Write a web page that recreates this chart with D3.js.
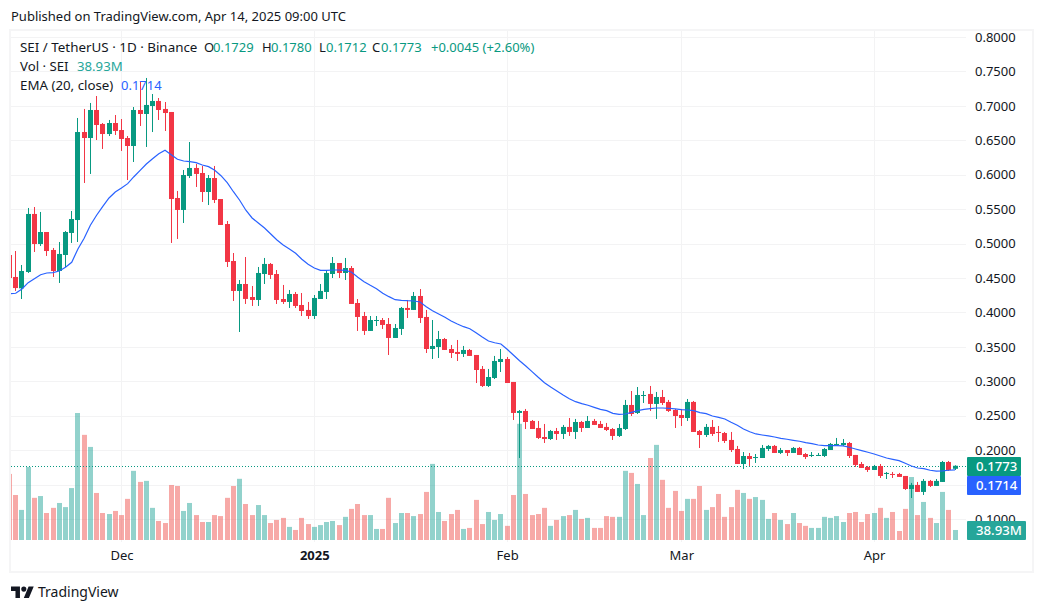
<!DOCTYPE html>
<html>
<head>
<meta charset="utf-8">
<script src="https://cdn.jsdelivr.net/npm/d3@7"></script>
<style>
  html, body { margin: 0; background: #fff; }
  text { font-family: "Noto Sans", sans-serif; }
</style>
</head>
<body>
<div id="chart"></div>
<script>
// SEI / USDT daily candles, Nov 13 2024 to Apr 14 2025, one row per month
const opens = [
  .4834,.4515,.4350,.4587,.5430,.4994,.5168,.4907,.4602,.4834,.5154,.5342,.6620,.6533,.6940,.6737,.6591,.6751,
  .6649,.6533,.6417,.6940,.6882,.6998,.7071,.6955,.6911,.5662,.5488,.5981,.6098,.6025,.5749,.5952,.5647,.5284,.4747,.4312,.4413,.4224,.4181,.4558,.4704,.4558,.4195,.4152,.4268,.4108,.4036,
  .3948,.4195,.4297,.4558,.4718,.4573,.4645,.4137,.3948,.3731,.3876,.3890,.3832,.3629,.3760,.4065,.4036,.4239,.3934,.3469,.3498,.3614,.3469,.3426,.3397,.3455,.3382,.3179,.2932,.3048,.3280,
  .3324,.2990,.2540,.2569,.2424,.2322,.2191,.2162,.2278,.2235,.2337,.2264,.2409,.2322,.2424,.2380,.2337,.2307,.2206,.2307,.2656,.2540,.2787,.2816,.2671,.2772,.2700,.2583,
  .2511,.2467,.2700,.2278,.2220,.2337,.2264,.2249,.2148,.2017,.1799,.1915,.1886,.1886,.2017,.2061,.1959,.2002,.1959,.2032,.1944,.1915,.1915,.1915,.2002,.2075,.2075,.2104,.1930,.1799,.1756,
  .1712,.1770,.1654,.1654,.1654,.1625,.1436,.1495,.1393,.1553,.1480,.1538,.1828,.1729
]
const highs = [
  .4907,.4892,.4689,.5517,.5531,.5459,.5168,.4936,.5023,.5183,.5473,.6824,.6955,.7042,.7143,.6751,.6795,.6867,
  .6809,.6562,.6983,.7347,.7405,.7172,.7114,.7056,.6911,.5764,.6069,.6475,.6156,.6127,.5996,.6127,.5647,.5328,.4863,.4471,.4805,.4384,.4660,.4791,.4718,.4616,.4399,.4326,.4297,.4282,.4152,
  .4253,.4413,.4616,.4805,.4718,.4791,.4674,.4195,.4007,.3948,.3948,.3919,.3919,.3832,.4079,.4181,.4297,.4340,.4036,.3890,.3731,.3629,.3527,.3600,.3513,.3469,.3382,.3222,.3179,.3368,.3469,
  .3353,.2990,.2583,.2598,.2438,.2424,.2380,.2293,.2322,.2366,.2467,.2453,.2424,.2496,.2453,.2424,.2395,.2322,.2380,.2729,.2859,.2917,.2859,.2932,.2845,.2874,.2729,.2598,
  .2598,.2743,.2714,.2293,.2380,.2438,.2351,.2264,.2264,.2061,.1973,.1959,.1944,.2075,.2075,.2075,.2032,.2002,.2046,.2046,.1959,.1973,.1959,.2032,.2104,.2177,.2162,.2119,.1930,.1828,.1770,
  .1785,.1799,.1683,.1683,.1669,.1625,.1524,.1538,.1581,.1567,.1581,.1843,.1843,.1780
]
const lows = [
  .4420,.4312,.4195,.4573,.4878,.4965,.4820,.4515,.4428,.4660,.5009,.5023,.5880,.6011,.6504,.6374,.6562,.6577,
  .6345,.5923,.6185,.6708,.6403,.6620,.6795,.6635,.5009,.5067,.5299,.5952,.5822,.5604,.5560,.5589,.5270,.4660,.4166,.3716,.4123,.4094,.4094,.4413,.4486,.4123,.4123,.4065,.4065,.3948,.3905,
  .3905,.4195,.4195,.4500,.4500,.4471,.4123,.3731,.3673,.3731,.3803,.3760,.3382,.3629,.3673,.3919,.4036,.3847,.3411,.3324,.3338,.3455,.3338,.3295,.3353,.3368,.2975,.2917,.2917,.3033,.3135,
  .2975,.2438,.1886,.2307,.2307,.2162,.2104,.2148,.2148,.2162,.2206,.2162,.2264,.2322,.2366,.2322,.2278,.2148,.2191,.2293,.2496,.2525,.2685,.2569,.2453,.2656,.2554,.2322,
  .2351,.2424,.2264,.2031,.2191,.2206,.2119,.2104,.1973,.1799,.1727,.1770,.1814,.1886,.1988,.1959,.1944,.1915,.1959,.1930,.1871,.1900,.1915,.1900,.2002,.2061,.2061,.1886,.1756,.1741,.1683,
  .1712,.1596,.1581,.1596,.1611,.1422,.1305,.1393,.1349,.1465,.1480,.1538,.1698,.1712
]
const closes = [
  .4500,.4354,.4602,.5430,.4994,.5168,.4892,.4602,.4849,.5168,.5357,.6620,.6533,.6940,.6722,.6591,.6751,.6635,
  .6519,.6417,.6940,.6882,.7013,.7071,.6940,.6896,.5647,.5488,.5996,.6098,.6011,.5749,.5952,.5633,.5270,.4733,.4312,.4413,.4196,.4181,.4573,.4704,.4544,.4181,.4152,.4268,.4094,.4021,.3948,
  .4210,.4312,.4573,.4718,.4573,.4645,.4123,.3934,.3731,.3890,.3890,.3818,.3629,.3774,.4065,.4036,.4239,.3919,.3469,.3513,.3614,.3455,.3411,.3397,.3455,.3368,.3164,.2932,.3062,.3295,.3324,
  .2975,.2540,.2569,.2409,.2307,.2177,.2162,.2278,.2235,.2337,.2264,.2409,.2322,.2424,.2366,.2322,.2293,.2206,.2322,.2656,.2525,.2801,.2801,.2671,.2772,.2685,.2569,.2496,
  .2467,.2700,.2264,.2220,.2337,.2235,.2249,.2133,.2002,.1799,.1915,.1871,.1900,.2032,.2061,.1959,.2002,.1959,.2032,.1930,.1900,.1930,.1930,.2017,.2090,.2090,.2104,.1915,.1785,.1741,.1712,
  .1770,.1625,.1669,.1640,.1611,.1436,.1495,.1393,.1553,.1480,.1553,.1828,.1712,.1773
]
// volume in millions of SEI
const volumes = [
  257,175,117,284,164,171,105,125,144,128,202,494,409,362,183,105,101,113,
  97,160,269,226,230,125,74,66,214,210,113,144,97,70,70,97,93,164,210,238,140,97,136,97,66,78,86,51,39,86,62,
  51,58,70,74,58,90,121,140,97,97,43,43,164,66,105,105,93,101,187,296,109,74,101,117,43,47,156,62,109,78,101,
  55,175,452,179,97,101,125,55,78,93,97,117,82,86,47,47,93,90,90,269,261,218,97,319,370,234,125,191,
  113,160,160,210,117,128,179,90,128,195,183,160,167,156,82,105,78,62,105,66,55,47,47,90,86,93,70,105,109,70,101,
  105,125,86,109,35,121,245,97,148,86,66,187,117,38.93
]
// EMA (20, close)
const emaValues = [
  .4272,.4278,.4340,.4432,.4490,.4548,.4573,.4577,.4602,.4655,.4728,.4921,.5077,.5266,.5411,.5541,.5662,.5749,
  .5807,.5870,.5971,.6064,.6156,.6233,.6305,.6355,.6291,.6224,.6199,.6189,.6175,.6141,.6117,.6064,.5986,.5884,.5753,.5629,.5484,.5372,.5299,.5226,.5139,.5052,.4979,.4921,.4859,.4772,.4699,
  .4645,.4612,.4612,.4616,.4616,.4612,.4583,.4510,.4447,.4394,.4345,.4278,.4229,.4185,.4176,.4170,.4166,.4152,.4083,.4025,.3977,.3929,.3875,.3832,.3793,.3764,.3706,.3643,.3585,.3560,.3542,
  .3465,.3382,.3299,.3222,.3140,.3058,.2980,.2917,.2859,.2801,.2747,.2704,.2675,.2652,.2622,.2593,.2573,.2535,.2520,.2525,.2549,.2573,.2593,.2602,.2612,.2612,.2608,.2598,
  .2588,.2583,.2573,.2544,.2530,.2496,.2477,.2453,.2405,.2361,.2307,.2268,.2235,.2220,.2206,.2191,.2172,.2158,.2143,.2129,.2109,.2094,.2075,.2065,.2065,.2065,.2061,.2042,.2017,.1993,.1969,
  .1944,.1915,.1886,.1867,.1847,.1809,.1770,.1741,.1731,.1708,.1694,.1698,.1708,.1714
]

// 0.15 has a gridline but its label sits under the blue tag in the reference
const priceGrid = [.8, .75, .7, .65, .6, .55, .5, .45, .4, .35, .3, .25, .2, .15, .1]
const priceTicks = priceGrid.filter((d) => d !== .15)
const timeTicks = [
  { date: new Date(Date.UTC(2024, 11, 1)), label: 'Dec' },
  { date: new Date(Date.UTC(2025, 0, 1)), label: '2025' },
  { date: new Date(Date.UTC(2025, 1, 1)), label: 'Feb' },
  { date: new Date(Date.UTC(2025, 2, 1)), label: 'Mar' },
  { date: new Date(Date.UTC(2025, 3, 1)), label: 'Apr' },
]
const firstDay = new Date(Date.UTC(2024, 10, 13))
const lastDay = new Date(Date.UTC(2025, 3, 14))
const days = d3.utcDay.range(firstDay, d3.utcDay.offset(lastDay, 1))

const lastClose = 0.1773
const lastEma = 0.1714
const lastVolume = 38.93

const up = '#089981'
const down = '#f23645'
const blue = '#2962ff'
const gridColor = '#f3f3f4'
const frameColor = '#f5f5f6'
const textColor = '#131722'

const width = 1044
const height = 611
const pane = { left: 11, right: 966, top: 31, bottom: 542 }

const svg = d3.select('#chart').append('svg')
  .attr('width', width)
  .attr('height', height)
  .style('display', 'block')

const xScale = d3.scaleUtc().domain([firstDay, lastDay]).range([9.5, 955])
const yScale = d3.scaleLinear().domain([0.1, 0.8]).range([519, 37])
const volScale = d3.scaleLinear().domain([0, 494]).range([540, 413])

const snap = (d) => Math.floor(xScale(d))
const isUp = (i) => closes[i] >= opens[i]

// outer frame
svg.append('rect')
  .attr('x', 10).attr('y', 30)
  .attr('width', 1023).attr('height', 542)
  .attr('fill', 'none')
  .attr('stroke', frameColor)
  .attr('stroke-width', 2)

svg.append('clipPath').attr('id', 'pane-clip')
  .append('rect')
  .attr('x', pane.left).attr('y', pane.top)
  .attr('width', pane.right - pane.left)
  .attr('height', pane.bottom - pane.top)

const plot = svg.append('g').attr('clip-path', 'url(#pane-clip)')

// Grid
plot.selectAll('line.h-grid')
  .data(priceGrid)
  .enter()
  .append('line')
    .attr('class', 'h-grid')
    .attr('x1', pane.left).attr('x2', pane.right)
    .attr('y1', (d) => Math.round(yScale(d)) + 0.5)
    .attr('y2', (d) => Math.round(yScale(d)) + 0.5)
    .attr('stroke', gridColor)

plot.selectAll('line.v-grid')
  .data(timeTicks)
  .enter()
  .append('line')
    .attr('class', 'v-grid')
    .attr('x1', (d) => snap(d.date) + 0.5).attr('x2', (d) => snap(d.date) + 0.5)
    .attr('y1', pane.top).attr('y2', pane.bottom)
    .attr('stroke', gridColor)

// Volume
plot.selectAll('rect.vol')
  .data(days)
  .enter()
  .append('rect')
    .attr('class', 'vol')
    .attr('x', (d) => snap(d) - 2)
    .attr('width', 5)
    .attr('y', (d, i) => volScale(volumes[i]))
    .attr('height', (d, i) => volScale(0) - volScale(volumes[i]))
    .attr('fill', (d, i) => isUp(i) ? '#26a69a' : '#ef5350')
    .attr('fill-opacity', 0.5)

// Last price line
plot.append('line')
  .attr('x1', pane.left).attr('x2', pane.right)
  .attr('y1', Math.round(yScale(lastClose)) + 0.5)
  .attr('y2', Math.round(yScale(lastClose)) + 0.5)
  .attr('stroke', up)
  .attr('stroke-dasharray', '1 2')

// Candles
plot.selectAll('rect.wick')
  .data(days)
  .enter()
  .append('rect')
    .attr('class', 'wick')
    .attr('x', (d) => snap(d))
    .attr('width', 1)
    .attr('y', (d, i) => yScale(highs[i]))
    .attr('height', (d, i) => yScale(lows[i]) - yScale(highs[i]))
    .attr('fill', (d, i) => isUp(i) ? up : down)

plot.selectAll('rect.body')
  .data(days)
  .enter()
  .append('rect')
    .attr('class', 'body')
    .attr('x', (d) => snap(d) - 2)
    .attr('width', 5)
    .attr('y', (d, i) => yScale(Math.max(opens[i], closes[i])))
    .attr('height', (d, i) => Math.max(1, Math.abs(yScale(opens[i]) - yScale(closes[i]))))
    .attr('fill', (d, i) => isUp(i) ? up : down)

// EMA
const emaLine = d3.line()
  .x((d, i) => xScale(days[i]))
  .y((d) => yScale(d))

plot.append('path')
  .attr('d', emaLine(emaValues))
  .attr('fill', 'none')
  .attr('stroke', blue)
  .attr('stroke-width', 1.2)

// Axes
const yAxis = d3.axisRight(yScale)
  .tickValues(priceTicks)
  .tickFormat(d3.format('.4f'))
  .tickSize(0)
  .tickPadding(0)

const yAxisG = svg.append('g')
  .attr('transform', 'translate(975,0)')
  .call(yAxis)
yAxisG.select('.domain').remove()
yAxisG.selectAll('text')
  .attr('font-family', '"Noto Sans", sans-serif')
  .attr('font-size', 13)
  .attr('fill', textColor)

const xAxis = d3.axisBottom(xScale)
  .tickValues(timeTicks.map((d) => d.date))
  .tickFormat((d, i) => timeTicks[i].label)
  .tickSize(0)
  .tickPadding(0)

const xAxisG = svg.append('g')
  .attr('transform', 'translate(0,551)')
  .call(xAxis)
xAxisG.select('.domain').remove()
xAxisG.selectAll('text')
  .attr('font-family', '"Noto Sans", sans-serif')
  .attr('font-size', 13)
  .attr('fill', textColor)
  .attr('font-weight', (d, i) => timeTicks[i].label === '2025' ? 700 : 400)

// Price tags
function tag(y, w, color, text) {
  svg.append('rect')
    .attr('x', 967).attr('y', y)
    .attr('width', w).attr('height', 19)
    .attr('rx', 1)
    .attr('fill', color)
  svg.append('text')
    .attr('x', 976).attr('y', y + 14)
    .attr('font-size', 13.2)
    .attr('font-weight', 500)
    .attr('fill', '#fff')
    .text(text)
}
tag(457, 54, up, d3.format('.4f')(lastClose))
tag(476, 54, blue, d3.format('.4f')(lastEma))
tag(521, 59, '#26a69a', lastVolume + 'M')

// Header and legend text
function label(x, y, text, color, size) {
  svg.append('text')
    .attr('x', x).attr('y', y)
    .attr('font-size', size || 13)
    .attr('fill', color || textColor)
    .text(text)
}
label(11, 21, 'Published on TradingView.com, Apr 14, 2025 09:00 UTC', textColor, 13)
label(20, 52, 'SEI / TetherUS · 1D · Binance', textColor, 13.4)
const ohlc = [
  [204, 'O', 213, opens[152]],
  [262, 'H', 271, highs[152]],
  [319, 'L', 326, lows[152]],
  [372, 'C', 381, closes[152]],
]
ohlc.forEach((d) => {
  label(d[0], 52, d[1])
  label(d[2], 52, d3.format('.4f')(d[3]), up)
})
label(431, 52, '+0.0045 (+2.60%)', up)
label(20, 71, 'Vol · SEI', textColor, 13.2)
label(77, 71, lastVolume + 'M', '#26a69a', 13.2)
label(20, 90, 'EMA (20, close)', textColor, 13.3)
label(121, 90, d3.format('.4f')(lastEma), blue)

// Logo
const logo = svg.append('g').attr('transform', 'translate(11,584) scale(0.64)').attr('fill', '#131722')
logo.append('path').attr('d', 'M14 22H7V11H0V4h14v18zM28 22h-8l7.5-18h8L28 22z')
logo.append('circle').attr('cx', 20).attr('cy', 8).attr('r', 4)
label(38, 597, 'TradingView', '#131722', 14)
</script>
</body>
</html>
